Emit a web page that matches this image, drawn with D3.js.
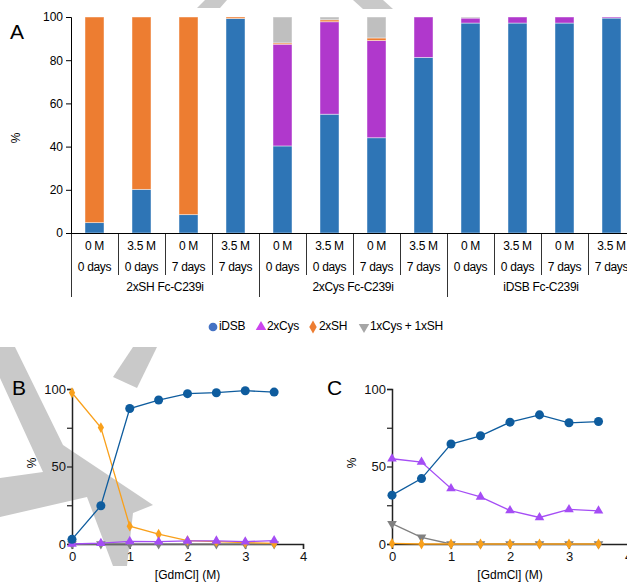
<!DOCTYPE html>
<html>
<head>
<meta charset="utf-8">
<script src="https://cdn.jsdelivr.net/npm/d3@7"></script>
<style>
  body { margin: 0; background: #fff; }
  svg { display: block; font-family: "Liberation Sans", Arial, sans-serif; }
</style>
</head>
<body>
<div id="vis"></div>
<script>
// ---- data: panel A ----
const concLabels = ["0 M", "3.5 M", "0 M", "3.5 M", "0 M", "3.5 M", "0 M", "3.5 M", "0 M", "3.5 M", "0 M", "3.5 M"];
const dayLabels = ["0 days", "0 days", "7 days", "7 days", "0 days", "0 days", "7 days", "7 days", "0 days", "0 days", "7 days", "7 days"];
const groupLabels = ["2xSH Fc-C239i", "2xCys Fc-C239i", "iDSB Fc-C239i"];
const seriesNames = ["iDSB", "2xCys", "2xSH", "1xCys + 1xSH"];
const aIDSB  = [4.8, 20.2, 8.5, 99.3, 40.3, 55.0, 44.1, 81.3, 97.2, 97.2, 97.2, 99.5];
const a2xCys = [0, 0, 0, 0, 47.1, 42.8, 45.0, 18.7, 2.3, 2.8, 2.8, 0.5];
const a2xSH  = [95.2, 79.8, 91.5, 0.7, 0.6, 0.9, 1.2, 0, 0, 0, 0, 0];
const aMixed = [0, 0, 0, 0, 12.0, 1.3, 9.7, 0, 0.5, 0, 0, 0];
const yTicksA = [0, 20, 40, 60, 80, 100];

// ---- data: panels B and C ----
const gdmcl = [0, 0.5, 1, 1.5, 2, 2.5, 3, 3.5];
const bIDSB  = [3.0, 24.7, 87.4, 92.9, 97.0, 97.6, 98.9, 98.0];
const b2xCys = [0, 0.5, 1.7, 1.5, 2.0, 2.0, 1.5, 2.2];
const b2xSH  = [97.6, 75.1, 11.5, 6.3, 2.2, 1.5, 0.9, 0.4];
const bMixed = [0, 0, 0, 0, 0, 0, 0, 0];
const cIDSB  = [31.5, 42.2, 64.5, 69.8, 78.6, 83.3, 78.2, 79.0];
const c2xCys = [55.0, 52.9, 35.8, 30.4, 21.6, 17.1, 22.3, 21.4];
const c2xSH  = [0.4, 0, 0, 0, 0, 0, 0, 0];
const cMixed = [13.1, 4.3, 0, 0, 0, 0, 0, 0];
const xTicksBC = [0, 1, 2, 3, 4];
const yTicksBC = [0, 25, 50, 75, 100];

const width = 627, height = 583;
const barColors = ["#2E75B6", "#B038CC", "#ED7D31", "#BFBFBF"];
const lineColors = ["#0E5C9E", "#A54DF5", "#F9A01B", "#808080"];
const legendColors = ["#4472C4", "#CC44EE", "#ED7D31", "#A6A6A6"];

const svg = d3.select("#vis").append("svg")
  .attr("width", width)
  .attr("height", height);

// faint watermark in the background
const wm = svg.append("g").attr("fill", "#c9c9c9");
[
  "M0,347 L15,347 L63,445 L153,505 L133,513 L127,566 L113,566 L87,497 L0,517 L0,478 L43,472 L0,378 Z",
  "M133,347 L157,347 L137,388 L113,377 Z",
  "M205,0 L227,0 L220,8 L197,8 Z",
  "M353,0 L383,0 L393,9 L363,9 Z"
].forEach(d => wm.append("path").attr("d", d));

// ================= panel A =================
const catIdx = d3.range(concLabels.length);
const xA = d3.scaleBand().domain(catIdx).range([71, 71 + 47 * catIdx.length]);
const yA = d3.scaleLinear().domain([0, 100]).range([233, 17]);
const barW = 19;

const rowsA = catIdx.map(i => ({
  i: i,
  "iDSB": aIDSB[i], "2xCys": a2xCys[i], "2xSH": a2xSH[i], "1xCys + 1xSH": aMixed[i]
}));
const stackA = d3.stack().keys(seriesNames)(rowsA);

svg.append("g").selectAll("g")
  .data(stackA)
  .join("g")
  .attr("fill", (d, k) => barColors[k])
  .selectAll("rect")
  .data(d => d.filter(s => s[1] - s[0] > 0))
  .join("rect")
  .attr("x", s => xA(s.data.i) + xA.bandwidth() / 2 - barW / 2)
  .attr("width", barW)
  .attr("y", s => yA(s[1]))
  .attr("height", s => yA(s[0]) - yA(s[1]))
  .attr("stroke", "rgba(255,255,255,0.55)")
  .attr("stroke-width", 0.8);

const yAxisA = svg.append("g")
  .attr("transform", "translate(71,0)")
  .call(d3.axisLeft(yA).tickValues(yTicksA).tickSize(5).tickPadding(3));
yAxisA.select(".domain").attr("stroke", "#000");
yAxisA.selectAll("text").attr("font-size", 12).attr("font-family", null).attr("fill", "#000");

svg.append("text")
  .attr("transform", "translate(17,138) rotate(-90)")
  .attr("text-anchor", "middle").attr("dominant-baseline", "middle")
  .attr("font-size", 12).text("%");
svg.append("text").attr("x", 10).attr("y", 39).attr("font-size", 21).text("A");

// category axis
const catAxis = svg.append("g");
catAxis.append("line")
  .attr("x1", 71).attr("x2", width).attr("y1", 233.5).attr("y2", 233.5)
  .attr("stroke", "#000");
catAxis.selectAll("line.div")
  .data(catIdx)
  .join("line")
  .attr("class", "div")
  .attr("x1", i => Math.round(xA(i)) + 0.5)
  .attr("x2", i => Math.round(xA(i)) + 0.5)
  .attr("y1", 233)
  .attr("y2", i => (i % 4 === 0 ? 297 : 275))
  .attr("stroke", "#000").attr("stroke-width", 0.8);
catAxis.selectAll("text.conc")
  .data(catIdx)
  .join("text")
  .attr("class", "conc")
  .attr("x", i => xA(i) + xA.bandwidth() / 2)
  .attr("y", 247)
  .attr("text-anchor", "middle").attr("dominant-baseline", "middle")
  .attr("font-size", 12).attr("letter-spacing", -0.3)
  .text(i => concLabels[i]);
catAxis.selectAll("text.day")
  .data(catIdx)
  .join("text")
  .attr("class", "day")
  .attr("x", i => xA(i) + xA.bandwidth() / 2)
  .attr("y", 268)
  .attr("text-anchor", "middle").attr("dominant-baseline", "middle")
  .attr("font-size", 12).attr("letter-spacing", -0.3)
  .text(i => dayLabels[i]);
catAxis.selectAll("text.group")
  .data(groupLabels)
  .join("text")
  .attr("class", "group")
  .attr("x", (g, k) => xA(k * 4) + xA.bandwidth() * 2)
  .attr("y", 288)
  .attr("text-anchor", "middle").attr("dominant-baseline", "middle")
  .attr("font-size", 12).attr("letter-spacing", -0.3)
  .text(g => g);

// legend
const legendX = [213, 261, 313, 364];
const symbols = [d3.symbolCircle, d3.symbolTriangle, d3.symbolDiamond, d3.symbolTriangle];
const legend = svg.append("g").attr("transform", "translate(0,327)");
seriesNames.forEach((name, k) => {
  legend.append("path")
    .attr("d", d3.symbol().type(symbols[k]).size(k === 0 ? 60 : 48)())
    .attr("transform", `translate(${legendX[k]},0)` + (k === 3 ? " rotate(180)" : ""))
    .attr("fill", legendColors[k]);
  legend.append("text")
    .attr("x", legendX[k] + 6).attr("y", 0)
    .attr("dominant-baseline", "middle")
    .attr("font-size", 12).attr("letter-spacing", -0.3)
    .text(name);
});

// ================= panels B and C =================
function linePanel(x0, x1, label, labelX, pctX, series) {
  const x = d3.scaleLinear().domain([0, 4]).range([x0, x1]);
  const y = d3.scaleLinear().domain([0, 100]).range([544, 389]);
  const g = svg.append("g");

  const yAx = g.append("g")
    .attr("transform", `translate(${x0},0)`)
    .call(d3.axisLeft(y).tickValues(yTicksBC).tickSize(5).tickPadding(1)
      .tickFormat(v => (v % 50 === 0 ? v : "")));
  const xAx = g.append("g")
    .attr("transform", "translate(0,544)")
    .call(d3.axisBottom(x).tickValues(xTicksBC).tickSize(5).tickPadding(3)
      .tickFormat(d3.format("d")));
  [yAx, xAx].forEach(a => {
    a.select(".domain").attr("stroke", "#222").attr("stroke-width", 1.5);
    a.selectAll(".tick line").attr("stroke", "#222").attr("stroke-width", 1.2);
    a.selectAll("text").attr("font-size", 13).attr("font-family", null).attr("fill", "#111");
  });

  series.forEach(s => {
    const pts = gdmcl.map((v, i) => [v, s.values[i]]);
    g.append("path")
      .datum(pts)
      .attr("fill", "none")
      .attr("stroke", s.color)
      .attr("stroke-width", 1.3)
      .attr("d", d3.line().x(p => x(p[0])).y(p => y(p[1])));
    g.selectAll(null)
      .data(pts)
      .join("path")
      .attr("d", d3.symbol().type(s.symbol).size(s.size)())
      .attr("transform", p => `translate(${x(p[0])},${y(p[1])})` + (s.flip ? " rotate(180)" : ""))
      .attr("fill", s.color);
  });

  svg.append("text")
    .attr("x", (x0 + x1) / 2).attr("y", 576)
    .attr("text-anchor", "middle").attr("dominant-baseline", "middle")
    .attr("font-size", 12).text("[GdmCl] (M)");
  svg.append("text")
    .attr("transform", `translate(${pctX},463) rotate(-90)`)
    .attr("text-anchor", "middle").attr("dominant-baseline", "middle")
    .attr("font-size", 12).text("%");
  svg.append("text").attr("x", labelX).attr("y", 395).attr("font-size", 21).text(label);
}

function seriesFor(idsb, cys, sh, mixed) {
  return [
    { values: mixed, color: lineColors[3], symbol: d3.symbolTriangle, size: 40, flip: true },
    { values: sh, color: lineColors[2], symbol: d3.symbolDiamond, size: 34 },
    { values: cys, color: lineColors[1], symbol: d3.symbolTriangle, size: 40 },
    { values: idsb, color: lineColors[0], symbol: d3.symbolCircle, size: 64 }
  ];
}

linePanel(72, 303, "B", 12, 33, seriesFor(bIDSB, b2xCys, b2xSH, bMixed));
linePanel(392, 628, "C", 327, 353, seriesFor(cIDSB, c2xCys, c2xSH, cMixed));
</script>
</body>
</html>
